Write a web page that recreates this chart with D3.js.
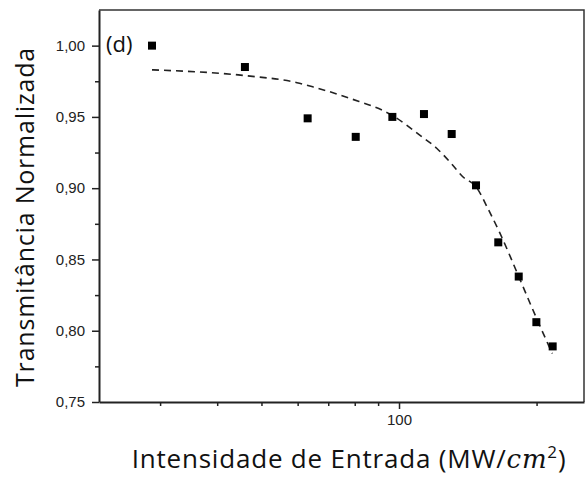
<!DOCTYPE html>
<html>
<head>
<meta charset="utf-8">
<script src="https://cdn.jsdelivr.net/npm/d3@7"></script>
<style>
  body { margin: 0; background: #fff; }
  svg { display: block; }
  .tick text { font-family: "Liberation Sans", Arial, sans-serif; fill: #222; }
</style>
</head>
<body>
<script>
// measured points
var intensity = [28.8, 46.0, 63.1, 80.4, 96.7, 113.4, 130.4, 147.4, 164.9, 182.8, 199.8, 216.9];
var transmit = [1.000, 0.985, 0.949, 0.936, 0.950, 0.952, 0.938, 0.902, 0.862, 0.838, 0.806, 0.789];

// fitted curve
var fitX = [28.8, 46.0, 59.8, 64.9, 78.1, 96.7, 111.2, 120.9, 130.4, 137.9, 147.4, 156.9, 166.0, 182.8, 199.8, 216.5];
var fitY = [0.983, 0.979, 0.974, 0.971, 0.963, 0.951, 0.937, 0.928, 0.917, 0.908, 0.901, 0.885, 0.869, 0.838, 0.809, 0.784];

var xTicks = [30, 40, 50, 60, 70, 80, 90, 100, 200];
var xMajor = [100];
var yTicks = [0.75, 0.775, 0.80, 0.825, 0.85, 0.875, 0.90, 0.925, 0.95, 0.975, 1.00];
var yMajor = [0.75, 0.80, 0.85, 0.90, 0.95, 1.00];

var width = 585, height = 480;
var margin = {left: 99, right: 1, top: 10, bottom: 78};
var w = width - margin.left - margin.right;
var h = height - margin.top - margin.bottom;

var svg = d3.select("body").append("svg").attr("width", width).attr("height", height);
var g = svg.append("g").attr("transform", "translate(" + margin.left + "," + margin.top + ")");

var x = d3.scaleLog().domain([22.05, 254]).range([0, w]);
var y = d3.scaleLinear().domain([0.75, 1.025]).range([h, 0]);

var fmtY = function(d){ return d.toFixed(2).replace(".", ","); };
var isMajorY = function(d){ return yMajor.some(function(m){ return Math.abs(m - d) < 1e-6; }); };

// frame (top + right)
g.append("path")
  .attr("d", "M0,0H" + w + "V" + h)
  .attr("fill", "none").attr("stroke", "#333").attr("stroke-width", 1.5);

var xAxis = d3.axisBottom(x).tickValues(xTicks)
  .tickFormat(function(d){ return xMajor.indexOf(d) >= 0 ? d : ""; })
  .tickSizeOuter(0);
var gx = g.append("g").attr("transform", "translate(0," + h + ")").call(xAxis);
gx.select(".domain").attr("stroke", "#222").attr("stroke-width", 2);
gx.selectAll(".tick line").attr("stroke", "#222").attr("stroke-width", 1.5)
  .attr("y2", function(d){ return xMajor.indexOf(d) >= 0 ? 7 : 4; });
gx.selectAll(".tick text").attr("font-size", 15).attr("y", 12);

var yAxis = d3.axisLeft(y).tickValues(yTicks)
  .tickFormat(function(d){ return isMajorY(d) ? fmtY(d) : ""; })
  .tickSizeOuter(0);
var gy = g.append("g").call(yAxis);
gy.select(".domain").attr("stroke", "#222").attr("stroke-width", 2);
gy.selectAll(".tick line").attr("stroke", "#222").attr("stroke-width", 1.5)
  .attr("x2", function(d){ return isMajorY(d) ? -7 : -4; });
gy.selectAll(".tick text").attr("font-size", 15).attr("x", -14);

// fit line
var line = d3.line()
  .x(function(d, i){ return x(fitX[i]); })
  .y(function(d, i){ return y(fitY[i]); })
  .curve(d3.curveMonotoneX);
g.append("path").attr("d", line(fitX))
  .attr("fill", "none").attr("stroke", "#222").attr("stroke-width", 1.6)
  .attr("stroke-dasharray", "7,5");

// data squares
g.selectAll("rect.pt").data(intensity).enter().append("rect")
  .attr("class", "pt")
  .attr("x", function(d){ return x(d) - 4; })
  .attr("y", function(d, i){ return y(transmit[i]) - 4; })
  .attr("width", 8).attr("height", 8)
  .attr("fill", "#000");

// panel label
g.append("text").attr("x", 7).attr("y", 42)
  .attr("font-family", "'Open Sans', sans-serif").attr("font-size", 22)
  .attr("fill", "#111").text("(d)");

// axis titles
var xt = svg.append("text")
  .attr("x", 349).attr("y", 468)
  .attr("text-anchor", "middle")
  .attr("font-family", "'Open Sans', sans-serif").attr("font-size", 26)
  .attr("letter-spacing", 0.8)
  .attr("fill", "#111");
xt.append("tspan").text("Intensidade de Entrada (MW/");
xt.append("tspan").attr("font-family", "'DejaVu Serif', serif").attr("font-style", "italic").text("cm");
xt.append("tspan").attr("font-size", 17).attr("dy", -10).text("2");
xt.append("tspan").attr("dy", 10).text(")");

svg.append("text")
  .attr("transform", "translate(34," + 217 + ") rotate(-90)")
  .attr("text-anchor", "middle")
  .attr("font-family", "'Open Sans', sans-serif").attr("font-size", 25)
  .attr("letter-spacing", 0.8)
  .attr("fill", "#111")
  .text("Transmitância Normalizada");
</script>
</body>
</html>
